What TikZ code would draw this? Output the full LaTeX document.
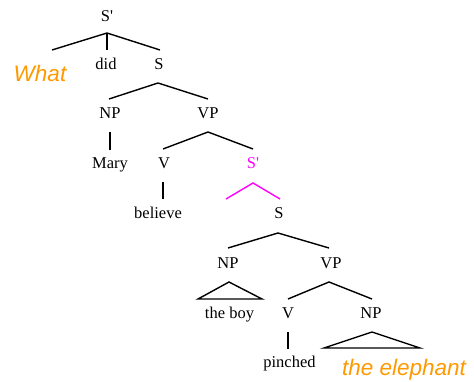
\documentclass[tikz,border=0pt]{standalone}
\usepackage{fontspec}
\setmainfont{Liberation Serif}
\newfontfamily\plainserif{Liberation Serif}
\newfontfamily\orsans{Liberation Sans}
\definecolor{orng}{RGB}{255,153,0}
\definecolor{mgnt}{RGB}{255,0,255}
\begin{document}
\begin{tikzpicture}[x=1pt,y=-1pt,
  lab/.style={anchor=base,inner sep=0pt,font=\plainserif\fontsize{16.5}{18}\selectfont},
  mov/.style={anchor=base,inner sep=0pt,text=orng,font=\orsans\itshape\fontsize{22.5}{24}\selectfont},
  br/.style={line width=1.4pt,black},
  mbr/.style={line width=1.4pt,mgnt}]
\useasboundingbox (0,0) rectangle (474,382);
% labels
\node[lab] (sp1) at (107,22) {S'};
\node[mov] (what) at (40,82) {What};
\node[lab] (did) at (106,70) {did};
\node[lab] (s1) at (159,70) {S};
\node[lab] (np1) at (110,119) {NP};
\node[lab] (vp1) at (208,119) {VP};
\node[lab] (mary) at (110,169) {Mary};
\node[lab] (v1) at (164,169) {V};
\node[lab,text=mgnt] (sp2) at (253,169) {S'};
\node[lab] (believe) at (158,219) {believe};
\node[lab] (s2) at (279,219) {S};
\node[lab] (np2) at (228,269) {NP};
\node[lab] (vp2) at (331,269) {VP};
\node[lab] (boy) at (229.5,318) {the boy};
\node[lab] (v2) at (288,318) {V};
\node[lab] (np3) at (371,318) {NP};
\node[lab] (pinched) at (289.5,367) {pinched};
\node[mov] (eleph) at (404,375) {the elephant};
% branch points
\coordinate (a1) at (107,33);
\coordinate (a1l) at (52,50);
\coordinate (a1m) at (107,50);
\coordinate (a1r) at (160,50);
\coordinate (a2) at (158,83);
\coordinate (a2l) at (109,99);
\coordinate (a2r) at (208,99);
\coordinate (a3t) at (110,132);
\coordinate (a3b) at (110,150);
\coordinate (a4) at (208,132);
\coordinate (a4l) at (163,149);
\coordinate (a4r) at (253,149);
\coordinate (a5t) at (163,182);
\coordinate (a5b) at (163,199);
\coordinate (a6) at (253,183);
\coordinate (a6l) at (226,199);
\coordinate (a6r) at (280,199);
\coordinate (a7) at (278,233);
\coordinate (a7l) at (228,248);
\coordinate (a7r) at (329,248);
\coordinate (t1) at (229,282);
\coordinate (t1l) at (198,299);
\coordinate (t1r) at (262,299);
\coordinate (a8) at (329,282);
\coordinate (a8l) at (288,299);
\coordinate (a8r) at (372,299);
\coordinate (a9t) at (288,332);
\coordinate (a9b) at (288,349);
\coordinate (t2) at (372,332);
\coordinate (t2l) at (324,348);
\coordinate (t2r) at (420,348);
% branches
\draw[br] (a1l) -- (a1) -- (a1r);
\draw[br] (a1) -- (a1m);
\draw[br] (a2l) -- (a2) -- (a2r);
\draw[br] (a3t) -- (a3b);
\draw[br] (a4l) -- (a4) -- (a4r);
\draw[br] (a5t) -- (a5b);
\draw[mbr] (a6l) -- (a6) -- (a6r);
\draw[br] (a7l) -- (a7) -- (a7r);
\draw[br] (t1) -- (t1l) -- (t1r) -- cycle;
\draw[br] (a8l) -- (a8) -- (a8r);
\draw[br] (a9t) -- (a9b);
\draw[br] (t2) -- (t2l) -- (t2r) -- cycle;
\end{tikzpicture}
\end{document}
